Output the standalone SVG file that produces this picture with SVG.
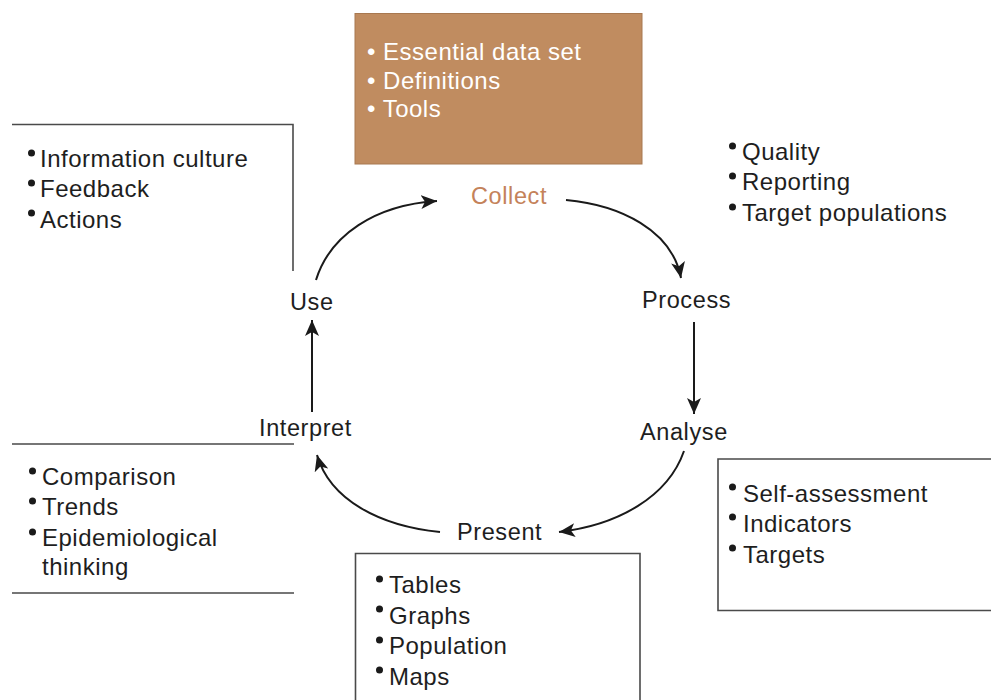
<svg xmlns="http://www.w3.org/2000/svg" width="991" height="700" viewBox="0 0 991 700">
<style>
text{font-family:"Liberation Sans",Arial,sans-serif;font-size:24px;letter-spacing:0.5px;fill:#1e1e1e}
.w{fill:#ffffff}
.lbl{font-size:23.5px;letter-spacing:0.6px}
.col{fill:#c4825a}
.box{fill:none;stroke:#4a4a4a;stroke-width:1.6}
.conn{fill:none;stroke:#1a1a1a;stroke-width:2}
.dot{fill:#1a1a1a}
</style>
<defs>
<marker id="ah" markerUnits="userSpaceOnUse" markerWidth="18" markerHeight="14" refX="16" refY="7" orient="auto">
<path d="M0,0 L16,7 L0,14 L4,7 z" fill="#1a1a1a"/>
</marker>
</defs>
<rect width="991" height="700" fill="#ffffff"/>

<g id="collect-box">
<rect x="355" y="13.5" width="287" height="150.5" fill="#c08c60" stroke="#a87850" stroke-width="1"/>
<text x="367" y="60" class="w">• Essential data set</text>
<text x="367" y="89" class="w">• Definitions</text>
<text x="367" y="117" class="w">• Tools</text>
</g>

<g id="collect"><text x="471" y="204" class="lbl col">Collect</text></g>
<g id="process"><text x="642" y="308" class="lbl">Process</text></g>
<g id="analyse"><text x="640" y="440" class="lbl">Analyse</text></g>
<g id="present"><text x="457" y="540" class="lbl">Present</text></g>
<g id="interpret"><text x="259" y="436" class="lbl">Interpret</text></g>
<g id="use"><text x="290" y="310" class="lbl">Use</text></g>

<g id="use-notes">
<path class="box" d="M12,124.5 H293 V271"/>
<circle class="dot" cx="31.5" cy="153" r="3.5"/>
<circle class="dot" cx="31.5" cy="183" r="3.5"/>
<circle class="dot" cx="31.5" cy="213" r="3.5"/>
<text x="40" y="167">Information culture</text>
<text x="40" y="197">Feedback</text>
<text x="40" y="228">Actions</text>
</g>

<g id="process-notes">
<circle class="dot" cx="732.5" cy="146" r="3.5"/>
<circle class="dot" cx="732.5" cy="176" r="3.5"/>
<circle class="dot" cx="732.5" cy="207" r="3.5"/>
<text x="742" y="160">Quality</text>
<text x="742" y="190">Reporting</text>
<text x="742" y="221">Target populations</text>
</g>

<g id="interpret-notes">
<path class="box" d="M12,444 H294 M12,593 H294"/>
<circle class="dot" cx="32.5" cy="471" r="3.5"/>
<circle class="dot" cx="32.5" cy="501" r="3.5"/>
<circle class="dot" cx="32.5" cy="532" r="3.5"/>
<text x="42" y="485">Comparison</text>
<text x="42" y="515">Trends</text>
<text x="42" y="546">Epidemiological</text>
<text x="42" y="575">thinking</text>
</g>

<g id="present-notes">
<path class="box" d="M355.5,701 V553.5 H640 V701"/>
<circle class="dot" cx="379.5" cy="579" r="3.5"/>
<circle class="dot" cx="379.5" cy="609" r="3.5"/>
<circle class="dot" cx="379.5" cy="640" r="3.5"/>
<circle class="dot" cx="379.5" cy="670" r="3.5"/>
<text x="389" y="593">Tables</text>
<text x="389" y="624">Graphs</text>
<text x="389" y="654">Population</text>
<text x="389" y="685">Maps</text>
</g>

<g id="analyse-notes">
<path class="box" d="M992,459 H718 V610.5 H992"/>
<circle class="dot" cx="732.5" cy="487" r="3.5"/>
<circle class="dot" cx="732.5" cy="517" r="3.5"/>
<circle class="dot" cx="732.5" cy="548" r="3.5"/>
<text x="743" y="502">Self-assessment</text>
<text x="743" y="532">Indicators</text>
<text x="743" y="563">Targets</text>
</g>

<g id="connectors">
<path class="conn" marker-end="url(#ah)" d="M316,280 C330,235 375,205 437,201"/>
<path class="conn" marker-end="url(#ah)" d="M566,200 C620,205 672,230 681,278"/>
<path class="conn" marker-end="url(#ah)" d="M694,322 V414"/>
<path class="conn" marker-end="url(#ah)" d="M684,451 C668,497 618,525 559,532"/>
<path class="conn" marker-end="url(#ah)" d="M440,532 C380,526 330,500 317,455"/>
<path class="conn" marker-end="url(#ah)" d="M312,412 V320"/>
</g>
</svg>
